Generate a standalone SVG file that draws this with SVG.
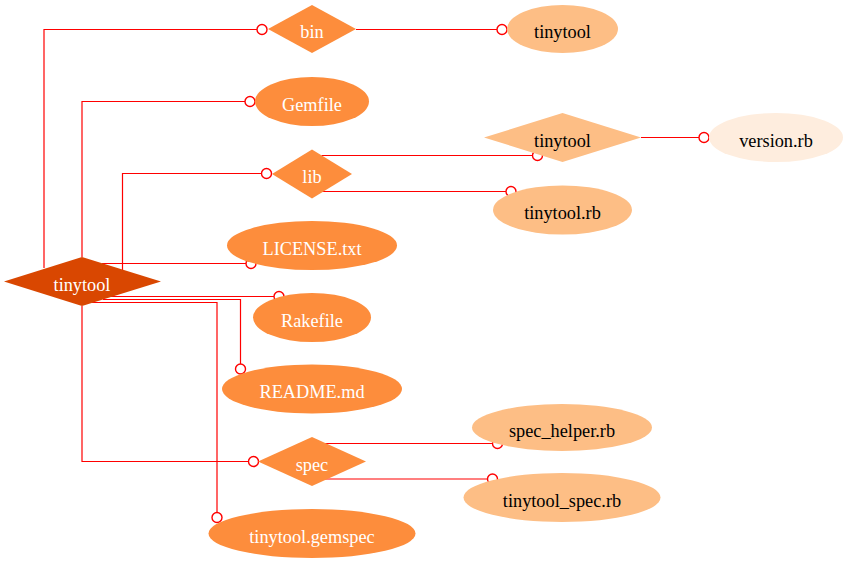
<svg xmlns="http://www.w3.org/2000/svg" width="848" height="563" viewBox="0 0 848 563">
<style>
text{font-family:"Liberation Serif","Times New Roman",serif;font-size:18.3px;text-anchor:middle}
.w{fill:#ffffff}.b{fill:#000000}
.c0{fill:#d94701}.c1{fill:#fd8d3c}.c2{fill:#fdbe85}.c3{fill:#feedde}
.e{fill:none;stroke:#ff0000;stroke-width:1.2}
.o{fill:#ffffff;stroke:#ff0000;stroke-width:1.4}
</style>
<rect width="848" height="563" fill="#ffffff"/>
<g id="edges">
<polyline class="e" points="44,268 44,29.5 257,29.5"/>
<circle class="o" cx="262" cy="29.5" r="5"/>
<polyline class="e" points="82,257 82,101.5 245,101.5"/>
<circle class="o" cx="250" cy="101.5" r="5"/>
<polyline class="e" points="122.5,270 122.5,173.5 261.5,173.5"/>
<circle class="o" cx="266.5" cy="173.5" r="5"/>
<line class="e" x1="356" y1="29.5" x2="497" y2="29.5"/>
<circle class="o" cx="502" cy="29.5" r="5"/>
<line class="e" x1="321.5" y1="155.5" x2="532.5" y2="155.5"/>
<circle class="o" cx="537.5" cy="155.5" r="5"/>
<line class="e" x1="321.5" y1="191.5" x2="506" y2="191.5"/>
<circle class="o" cx="511" cy="191.5" r="5"/>
<line class="e" x1="641" y1="137.5" x2="699" y2="137.5"/>
<circle class="o" cx="704" cy="137.5" r="5"/>
<line class="e" x1="102" y1="263.5" x2="246" y2="263.5"/>
<circle class="o" cx="251" cy="263.5" r="5"/>
<line class="e" x1="111" y1="296.5" x2="274" y2="296.5"/>
<circle class="o" cx="279" cy="296.5" r="5"/>
<polyline class="e" points="103,299.5 240.5,299.5 240.5,364"/>
<circle class="o" cx="240.5" cy="369" r="5"/>
<polyline class="e" points="92,302.5 217,302.5 217,512.5"/>
<circle class="o" cx="217" cy="517.5" r="5"/>
<polyline class="e" points="82,306 82,461.5 248.5,461.5"/>
<circle class="o" cx="253.5" cy="461.5" r="5"/>
<line class="e" x1="325" y1="443.5" x2="492.5" y2="443.5"/>
<circle class="o" cx="497.5" cy="443.5" r="5"/>
<line class="e" x1="325" y1="479" x2="487.5" y2="479"/>
<circle class="o" cx="492.5" cy="479" r="5"/>
</g>
<g id="root"><polygon class="c0" points="4,281.5 82,257 161,281.5 82,306"/><text class="w" x="82" y="290.5">tinytool</text></g>
<g id="bin"><polygon class="c1" points="268,29 312,5 356,29 312,53"/><text class="w" x="312" y="38">bin</text></g>
<g id="bin_tinytool"><ellipse class="c2" cx="562.5" cy="29" rx="55.5" ry="24"/><text class="b" x="562.5" y="38">tinytool</text></g>
<g id="Gemfile"><ellipse class="c1" cx="312" cy="101.5" rx="57" ry="24.5"/><text class="w" x="312" y="110.5">Gemfile</text></g>
<g id="lib"><polygon class="c1" points="272,174 312,149.5 352,174 312,198.5"/><text class="w" x="312" y="183">lib</text></g>
<g id="lib_tinytool"><polygon class="c2" points="484,137.5 562.5,113 641,137.5 562.5,162"/><text class="b" x="562.5" y="146.5">tinytool</text></g>
<g id="version_rb"><ellipse class="c3" cx="776" cy="137.5" rx="67" ry="24.5"/><text class="b" x="776" y="146.5">version.rb</text></g>
<g id="tinytool_rb"><ellipse class="c2" cx="562.5" cy="210" rx="69.5" ry="24.5"/><text class="b" x="562.5" y="219">tinytool.rb</text></g>
<g id="LICENSE"><ellipse class="c1" cx="312" cy="245.5" rx="85" ry="24.5"/><text class="w" x="312" y="254.5">LICENSE.txt</text></g>
<g id="Rakefile"><ellipse class="c1" cx="312" cy="317.5" rx="59" ry="24.5"/><text class="w" x="312" y="326.5">Rakefile</text></g>
<g id="README"><ellipse class="c1" cx="312" cy="389" rx="90" ry="24.5"/><text class="w" x="312" y="398">README.md</text></g>
<g id="spec"><polygon class="c1" points="258,461.5 312,437 366,461.5 312,486"/><text class="w" x="312" y="470.5">spec</text></g>
<g id="spec_helper"><ellipse class="c2" cx="562" cy="427.5" rx="90" ry="23.5"/><text class="b" x="562" y="436.5">spec_helper.rb</text></g>
<g id="tinytool_spec"><ellipse class="c2" cx="562" cy="497.5" rx="98.5" ry="24.5"/><text class="b" x="562" y="506.5">tinytool_spec.rb</text></g>
<g id="gemspec"><ellipse class="c1" cx="312" cy="533.5" rx="103.5" ry="24.5"/><text class="w" x="312" y="542.5">tinytool.gemspec</text></g>
</svg>
